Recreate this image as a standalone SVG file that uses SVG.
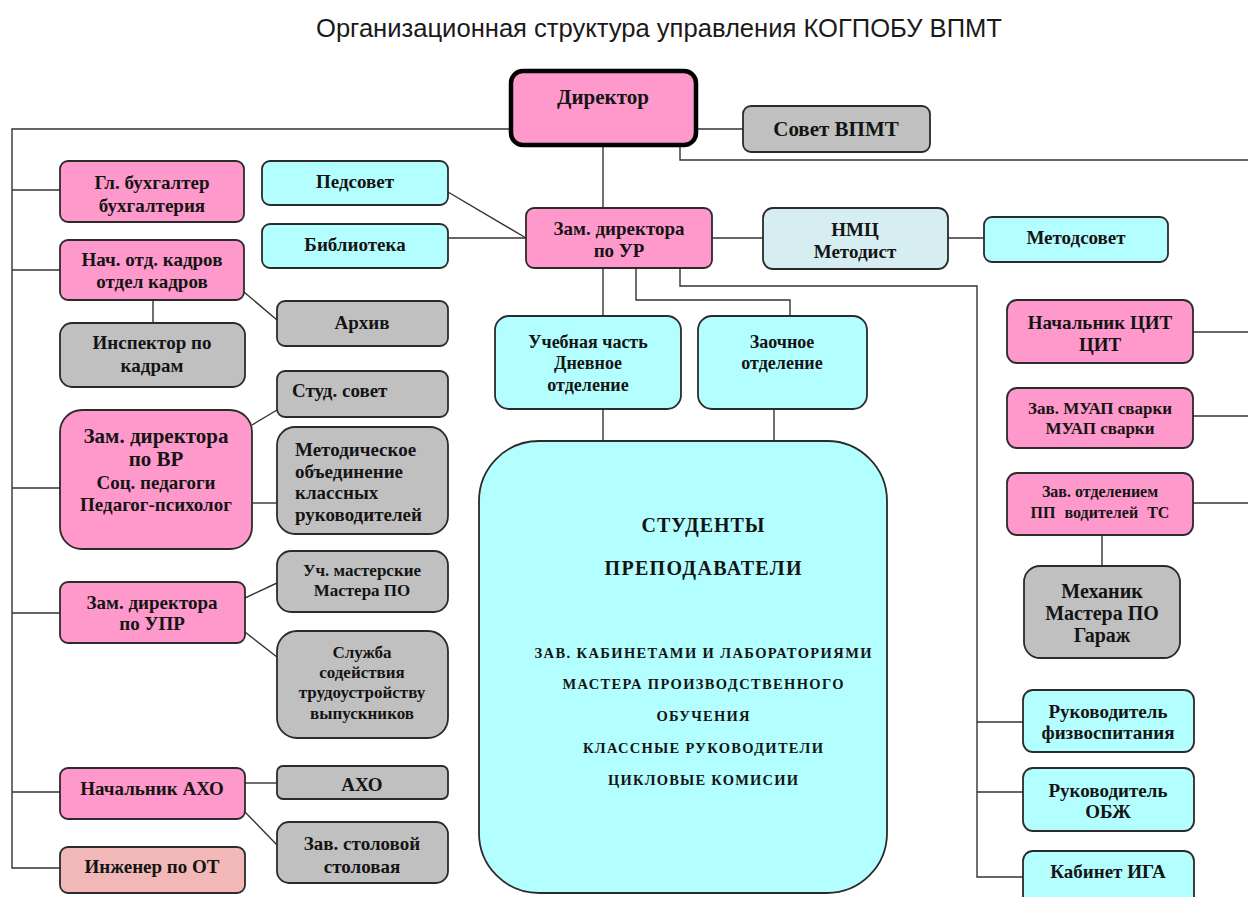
<svg xmlns="http://www.w3.org/2000/svg" width="1248" height="897" viewBox="0 0 1248 897">
<style>
  .n rect { stroke: #2b2b2b; stroke-width: 1.8; }
  .pink { fill: #FF99CC; }
  .gray { fill: #C0C0C0; }
  .cyan { fill: #B3FFFF; }
  .nmc { fill: #D6EEF2; }
  .ot { fill: #F2B8B8; }
  text { font-family: "Liberation Serif", "Times New Roman", serif; font-weight: bold; fill: #141414; text-anchor: middle; font-size: 19px; }
  .l { text-anchor: start; }
  .s17 { font-size: 17px; }
  .s16 { font-size: 16px; }
  .s18 { font-size: 18px; }
  .s20 { font-size: 20px; }
  .s21 { font-size: 21px; }
  .big1 { font-size: 20px; }
  .big2 { font-size: 14.5px; }
  #connectors path { fill: none; stroke: #333; stroke-width: 1.4; }
  .title { font-family: "Liberation Sans", Arial, sans-serif; font-weight: normal; font-size: 25px; fill: #1a1a1a; }
</style>
<rect x="0" y="0" width="1248" height="897" fill="#ffffff"/>
<text class="title" x="659" y="37" textLength="686" lengthAdjust="spacingAndGlyphs">Организационная структура управления КОГПОБУ ВПМТ</text>

<g id="connectors">
  <path d="M511,129 H12 V868 H60"/>
  <path d="M12,190 H60"/>
  <path d="M12,270 H60"/>
  <path d="M12,488 H60"/>
  <path d="M12,613 H60"/>
  <path d="M12,792 H60"/>
  <path d="M696,129 H743"/>
  <path d="M680,145 V160 H1248"/>
  <path d="M603,145 V208"/>
  <path d="M448,192 L526,238"/>
  <path d="M448,238 H526"/>
  <path d="M712,238 H763"/>
  <path d="M948,238 H984"/>
  <path d="M603,268 V316"/>
  <path d="M636,268 V300 H790 V316"/>
  <path d="M680,268 V286 H977 V877 H1023"/>
  <path d="M977,722 H1023"/>
  <path d="M977,792 H1023"/>
  <path d="M603,409 V441"/>
  <path d="M774,409 V441"/>
  <path d="M153,300 V323"/>
  <path d="M244,292 L277,320"/>
  <path d="M252,425 L277,410"/>
  <path d="M252,503 H277"/>
  <path d="M245,598 L277,583"/>
  <path d="M245,632 L277,657"/>
  <path d="M245,783 H277"/>
  <path d="M245,812 L277,845"/>
  <path d="M1193,332 H1248"/>
  <path d="M1193,416 H1248"/>
  <path d="M1193,503 H1248"/>
  <path d="M1102,535 V566"/>
</g>

<g id="director" class="n">
  <rect class="pink" x="511" y="71" width="185" height="74" rx="12" style="stroke:#000;stroke-width:4.5"/>
  <text class="s21" x="603" y="104">Директор</text>
</g>
<g id="sovet" class="n">
  <rect class="gray" x="743" y="106" width="187" height="46" rx="8"/>
  <text class="s21" x="836" y="136">Совет ВПМТ</text>
</g>
<g id="pedsovet" class="n">
  <rect class="cyan" x="262" y="161" width="186" height="44" rx="8"/>
  <text x="355" y="188">Педсовет</text>
</g>
<g id="biblioteka" class="n">
  <rect class="cyan" x="262" y="224" width="186" height="44" rx="8"/>
  <text x="355" y="251">Библиотека</text>
</g>
<g id="zam-ur" class="n">
  <rect class="pink" x="526" y="208" width="186" height="60" rx="8"/>
  <text x="619" y="235">Зам. директора</text>
  <text x="619" y="257">по УР</text>
</g>
<g id="nmc" class="n">
  <rect class="nmc" x="763" y="208" width="185" height="61" rx="10"/>
  <text x="855" y="236">НМЦ</text>
  <text x="855" y="258">Методист</text>
</g>
<g id="metodsovet" class="n">
  <rect class="cyan" x="984" y="217" width="184" height="45" rx="8"/>
  <text x="1076" y="244">Методсовет</text>
</g>

<g id="buh" class="n">
  <rect class="pink" x="60" y="161" width="184" height="61" rx="8"/>
  <text x="152" y="189">Гл. бухгалтер</text>
  <text x="152" y="212">бухгалтерия</text>
</g>
<g id="kadry" class="n">
  <rect class="pink" x="60" y="240" width="184" height="60" rx="8"/>
  <text x="152" y="266">Нач. отд. кадров</text>
  <text x="152" y="288">отдел кадров</text>
</g>
<g id="inspektor" class="n">
  <rect class="gray" x="60" y="323" width="185" height="64" rx="12"/>
  <text x="152" y="349">Инспектор по</text>
  <text x="152" y="372">кадрам</text>
</g>
<g id="arhiv" class="n">
  <rect class="gray" x="277" y="301" width="171" height="45" rx="8"/>
  <text x="362" y="329">Архив</text>
</g>
<g id="studsovet" class="n">
  <rect class="gray" x="277" y="371" width="171" height="46" rx="8"/>
  <text class="l" x="292" y="397">Студ. совет</text>
</g>
<g id="zam-vr" class="n">
  <rect class="pink" x="60" y="410" width="192" height="139" rx="22"/>
  <text class="s21" x="156" y="443">Зам. директора</text>
  <text class="s21" x="156" y="466">по ВР</text>
  <text x="156" y="489">Соц. педагоги</text>
  <text x="156" y="511">Педагог-психолог</text>
</g>
<g id="mo" class="n">
  <rect class="gray" x="277" y="427" width="171" height="107" rx="18"/>
  <text class="l" x="295" y="456">Методическое</text>
  <text class="l" x="295" y="478">объединение</text>
  <text class="l" x="295" y="499">классных</text>
  <text class="l" x="295" y="521">руководителей</text>
</g>
<g id="masterskie" class="n">
  <rect class="gray" x="277" y="551" width="171" height="61" rx="14"/>
  <text class="s17" x="362" y="576">Уч. мастерские</text>
  <text class="s17" x="362" y="596">Мастера ПО</text>
</g>
<g id="zam-upr" class="n">
  <rect class="pink" x="60" y="582" width="185" height="61" rx="8"/>
  <text x="152" y="609">Зам. директора</text>
  <text x="152" y="630">по УПР</text>
</g>
<g id="sluzhba" class="n">
  <rect class="gray" x="277" y="631" width="171" height="107" rx="20"/>
  <text class="s17" x="362" y="658">Служба</text>
  <text class="s17" x="362" y="678">содействия</text>
  <text class="s17" x="362" y="698">трудоустройству</text>
  <text class="s17" x="362" y="719">выпускников</text>
</g>
<g id="nach-aho" class="n">
  <rect class="pink" x="60" y="768" width="185" height="51" rx="8"/>
  <text x="152" y="795">Начальник АХО</text>
</g>
<g id="aho" class="n">
  <rect class="gray" x="277" y="766" width="171" height="33" rx="6"/>
  <text x="362" y="791">АХО</text>
</g>
<g id="stolovaya" class="n">
  <rect class="gray" x="277" y="822" width="171" height="61" rx="12"/>
  <text x="362" y="850">Зав. столовой</text>
  <text x="362" y="873">столовая</text>
</g>
<g id="inzhener" class="n">
  <rect class="ot" x="60" y="847" width="185" height="46" rx="8"/>
  <text x="152" y="873">Инженер по ОТ</text>
</g>

<g id="uchebnaya" class="n">
  <rect class="cyan" x="495" y="316" width="186" height="93" rx="14"/>
  <text class="s18" x="588" y="348">Учебная часть</text>
  <text class="s18" x="588" y="369">Дневное</text>
  <text class="s18" x="588" y="391">отделение</text>
</g>
<g id="zaochnoe" class="n">
  <rect class="cyan" x="698" y="316" width="169" height="93" rx="14"/>
  <text class="s18" x="782" y="348">Заочное</text>
  <text class="s18" x="782" y="369">отделение</text>
</g>
<g id="students" class="n">
  <rect class="cyan" x="479" y="441" width="408" height="452" rx="60"/>
  <text class="big1" x="703" y="532" textLength="123" lengthAdjust="spacing">СТУДЕНТЫ</text>
  <text class="big1" x="703" y="575" textLength="197" lengthAdjust="spacing">ПРЕПОДАВАТЕЛИ</text>
  <text class="big2" x="703" y="658" textLength="337" lengthAdjust="spacing">ЗАВ. КАБИНЕТАМИ И ЛАБОРАТОРИЯМИ</text>
  <text class="big2" x="703" y="689" textLength="281" lengthAdjust="spacing">МАСТЕРА ПРОИЗВОДСТВЕННОГО</text>
  <text class="big2" x="703" y="721" textLength="93" lengthAdjust="spacing">ОБУЧЕНИЯ</text>
  <text class="big2" x="703" y="753" textLength="240" lengthAdjust="spacing">КЛАССНЫЕ РУКОВОДИТЕЛИ</text>
  <text class="big2" x="703" y="785" textLength="190" lengthAdjust="spacing">ЦИКЛОВЫЕ КОМИСИИ</text>
</g>

<g id="cit" class="n">
  <rect class="pink" x="1007" y="300" width="186" height="63" rx="10"/>
  <text x="1100" y="329">Начальник ЦИТ</text>
  <text x="1100" y="351">ЦИТ</text>
</g>
<g id="muap" class="n">
  <rect class="pink" x="1007" y="388" width="186" height="60" rx="10"/>
  <text class="s17" x="1100" y="414">Зав. МУАП сварки</text>
  <text class="s17" x="1100" y="434">МУАП сварки</text>
</g>
<g id="pp" class="n">
  <rect class="pink" x="1007" y="473" width="186" height="62" rx="10"/>
  <text class="s16" x="1100" y="497">Зав. отделением</text>
  <text class="s16" x="1100" y="518" style="word-spacing:5px">ПП водителей ТС</text>
</g>
<g id="mehanik" class="n">
  <rect class="gray" x="1024" y="566" width="156" height="92" rx="16"/>
  <text class="s20" x="1102" y="598">Механик</text>
  <text class="s20" x="1102" y="620">Мастера ПО</text>
  <text class="s20" x="1102" y="642">Гараж</text>
</g>
<g id="fizvosp" class="n">
  <rect class="cyan" x="1023" y="690" width="171" height="62" rx="10"/>
  <text x="1108" y="718">Руководитель</text>
  <text x="1108" y="739">физвоспитания</text>
</g>
<g id="obzh" class="n">
  <rect class="cyan" x="1023" y="768" width="171" height="63" rx="10"/>
  <text x="1108" y="797">Руководитель</text>
  <text x="1108" y="818">ОБЖ</text>
</g>
<g id="iga" class="n">
  <rect class="cyan" x="1023" y="851" width="171" height="56" rx="10"/>
  <text x="1108" y="878">Кабинет ИГА</text>
</g>
</svg>
